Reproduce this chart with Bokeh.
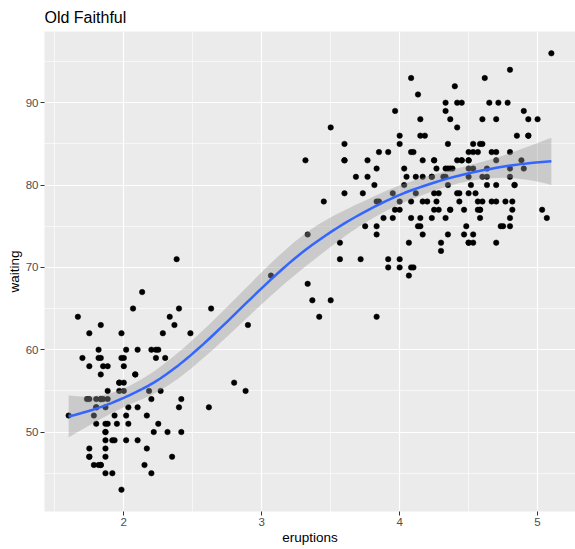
import numpy as np
from bokeh.plotting import figure
from bokeh.models import Range1d, FixedTicker
from bokeh.embed import file_html
from bokeh.resources import INLINE

eruptions = [3.600,1.800,3.333,2.283,4.533,2.883,4.700,3.600,1.950,4.350,
1.833,3.917,4.200,1.750,4.700,2.167,1.750,4.800,1.600,4.250,
1.800,1.750,3.450,3.067,4.533,3.600,1.967,4.083,3.850,4.433,
4.300,4.467,3.367,4.033,3.833,2.017,1.867,4.833,1.833,4.783,
4.350,1.883,4.567,1.750,4.533,3.317,3.833,2.100,4.633,2.000,
4.800,4.716,1.833,4.833,1.733,4.883,3.717,1.667,4.567,4.317,
2.233,4.500,1.750,4.800,1.817,4.400,4.167,4.700,2.067,4.700,
4.033,1.967,4.500,4.000,1.983,5.067,2.017,4.567,3.883,3.600,
4.133,4.333,4.100,2.633,4.067,4.933,3.950,4.517,2.167,4.000,
2.200,4.333,1.867,4.817,1.833,4.300,4.667,3.750,1.867,4.900,
2.483,4.367,2.100,4.500,4.050,1.867,4.700,1.783,4.850,3.683,
4.733,2.300,4.900,4.417,1.700,4.633,2.317,4.600,1.817,4.417,
2.617,4.067,4.250,1.967,4.600,3.767,1.917,4.500,2.267,4.650,
1.867,4.167,2.800,4.333,1.833,4.383,1.883,4.933,2.033,3.733,
4.233,2.233,4.533,4.817,4.333,1.983,4.633,2.017,5.100,1.800,
5.033,4.000,2.400,4.600,3.567,4.000,4.500,4.083,1.800,3.967,
2.200,4.150,2.000,3.833,3.500,4.583,2.367,5.000,1.933,4.617,
1.917,2.083,4.583,3.333,4.167,4.333,4.500,2.417,4.000,4.167,
1.883,4.583,4.250,3.767,2.033,4.433,4.083,1.833,4.417,2.183,
4.800,1.833,4.800,4.100,3.966,4.233,3.500,4.366,2.250,4.667,
2.100,4.350,4.133,1.867,4.600,1.783,4.367,3.850,1.933,4.500,
2.383,4.700,1.867,3.833,3.417,4.233,2.400,4.800,2.000,4.150,
1.867,4.267,1.750,4.483,4.000,4.117,4.083,4.267,3.917,4.550,
4.083,2.417,4.183,2.217,4.450,1.883,1.850,4.283,3.950,2.333,
4.150,2.350,4.933,2.900,4.583,3.833,2.083,4.367,2.133,4.350,
2.200,4.450,3.567,4.500,4.150,3.817,3.917,4.450,2.000,4.283,
4.767,4.533,1.850,4.250,1.983,2.250,4.750,4.117,2.150,4.417,
1.817,4.467]

waiting = [79,54,74,62,85,55,88,85,51,85,
54,84,78,47,83,52,62,84,52,79,
51,47,78,69,74,83,55,76,78,79,
73,77,66,80,74,52,48,80,59,90,
80,58,84,58,73,83,64,53,82,59,
75,90,54,80,54,83,71,64,77,81,
59,84,48,82,60,92,78,78,65,73,
82,56,79,71,62,76,60,78,76,83,
75,82,70,65,73,88,76,80,48,86,
60,90,50,78,63,72,84,75,51,82,
62,88,49,83,81,47,84,52,86,81,
75,59,89,79,59,81,50,85,59,87,
53,69,77,56,88,81,45,82,55,90,
45,83,56,89,46,82,51,86,53,79,
81,60,82,77,76,59,80,49,96,53,
77,77,65,81,71,70,81,93,53,89,
45,86,58,78,66,76,63,88,52,93,
49,57,77,68,81,81,73,50,85,74,
55,77,83,83,51,78,84,46,83,55,
81,57,76,84,77,81,87,77,51,78,
60,82,91,53,78,46,77,84,49,83,
71,80,49,75,64,76,53,94,55,76,
50,82,54,75,78,79,78,78,70,79,
70,54,86,50,90,54,54,77,79,64,
75,47,86,63,85,82,57,82,67,74,
54,83,73,73,88,80,71,83,56,79,
78,84,58,83,43,60,75,81,46,90,
46,74]

x_ticks = [2, 3, 4, 5]
x_minor = [1.5, 2.5, 3.5, 4.5]
y_ticks = [50, 60, 70, 80, 90]
y_minor = [45, 55, 65, 75, 85, 95]

# ---- loess smooth (span 0.75, degree 2), kd-tree vertices + cubic Hermite
#      interpolation as R's loess does, with 95% confidence band ----
xa = np.array(eruptions, dtype=float)
ya = np.array(waiting, dtype=float)
n = len(xa)
span = 0.75
q = int(np.floor(n * span))
fc = int(np.floor(n * span * 0.2))

xsrt = np.sort(xa)
mu = 0.005 * (xsrt[-1] - xsrt[0])
verts = [xsrt[0] - mu, xsrt[-1] + mu]

def build(l, u, a, b):
    if u - l + 1 <= fc:
        return
    m = (l + u) // 2
    off = 0
    while True:
        mm = m + off
        if mm >= u or mm < l:
            break
        if xsrt[mm] == xsrt[mm + 1]:
            off = -off
            if off >= 0:
                off += 1
            continue
        m = mm
        break
    xi = xsrt[m]
    if xi == a or xi == b:
        return
    verts.append(xi)
    build(l, m, a, xi)
    build(m + 1, u, xi, b)

build(0, n - 1, verts[0], verts[1])
verts = np.array(sorted(verts))

def local_rows(x0):
    d = np.abs(xa - x0)
    h = np.sort(d)[q - 1]
    u = d / h
    w = np.where(u < 1, (1 - u ** 3) ** 3, 0.0)
    X = np.vstack([np.ones(n), xa - x0, (xa - x0) ** 2]).T
    XtW = X.T * w
    B = np.linalg.solve(XtW @ X, XtW)
    return B[0], B[1]

V0, V1 = zip(*[local_rows(v) for v in verts])
V0, V1 = np.array(V0), np.array(V1)

def interp_rows(points):
    rows = []
    for x in points:
        i = min(max(np.searchsorted(verts, x) - 1, 0), len(verts) - 2)
        hw = verts[i + 1] - verts[i]
        t = (x - verts[i]) / hw
        h00 = 2 * t ** 3 - 3 * t ** 2 + 1
        h10 = t ** 3 - 2 * t ** 2 + t
        h01 = -2 * t ** 3 + 3 * t ** 2
        h11 = t ** 3 - t ** 2
        rows.append(h00 * V0[i] + h10 * hw * V1[i] + h01 * V0[i + 1] + h11 * hw * V1[i + 1])
    return np.array(rows)

L = interp_rows(xa)
R = np.eye(n) - L
delta1 = np.trace(R.T @ R)
resid = R @ ya
s = np.sqrt(np.sum(resid ** 2) / delta1)
tq = 1.969

xs = np.linspace(xa.min(), xa.max(), 80)
Ls = interp_rows(xs)
fit = Ls @ ya
se = s * np.sqrt(np.sum(Ls ** 2, axis=1))
lo = fit - tq * se
hi = fit + tq * se

# ggplot default 5% expansion of the data range
xpad = 0.05 * (xa.max() - xa.min())
ypad = 0.05 * (ya.max() - ya.min())

p = figure(width=575, height=549, output_backend="svg", toolbar_location=None,
           x_range=Range1d(xa.min() - xpad, xa.max() + xpad),
           y_range=Range1d(ya.min() - ypad, ya.max() + ypad),
           min_border_left=44, min_border_right=0, min_border_top=31,
           min_border_bottom=38,
           background_fill_color="#EBEBEB", border_fill_color="white",
           outline_line_color=None)

p.title.text = "Old Faithful"
p.title.text_font = "Liberation Sans"
p.title.text_font_size = "16px"
p.title.text_font_style = "normal"
p.title.text_color = "black"
p.title.standoff = 12
p.title.offset = 0

for ax, t, mn, lab in [(p.xaxis[0], x_ticks, x_minor, "eruptions"),
                       (p.yaxis[0], y_ticks, y_minor, "waiting")]:
    ax.ticker = FixedTicker(ticks=t, minor_ticks=mn)
    ax.axis_label = lab
    ax.axis_label_text_font = "Liberation Sans"
    ax.axis_label_text_font_size = "13.5px"
    ax.axis_label_text_font_style = "normal"
    ax.axis_label_text_color = "black"
    ax.major_label_text_font = "Liberation Sans"
    ax.major_label_text_font_size = "11.5px"
    ax.major_label_text_color = "#4D4D4D"
    ax.major_tick_line_color = "#333333"
    ax.major_tick_out = 4
    ax.major_tick_in = 0
    ax.minor_tick_line_color = None
    ax.minor_tick_out = 0
    ax.axis_line_color = None
    ax.major_label_standoff = 2
    ax.axis_label_standoff = 1

for g in (p.xgrid[0], p.ygrid[0]):
    g.grid_line_color = "white"
    g.grid_line_width = 1.2
    g.minor_grid_line_color = "white"
    g.minor_grid_line_width = 0.6

p.scatter(eruptions, waiting, size=5.5, fill_color="black", line_color="black",
          line_width=0.5)
p.varea(x=xs, y1=lo, y2=hi, fill_color="#999999", fill_alpha=0.4)
p.line(xs, fit, line_color="#3366FF", line_width=2.5)

open("out.html", "w").write(file_html(p, INLINE))
